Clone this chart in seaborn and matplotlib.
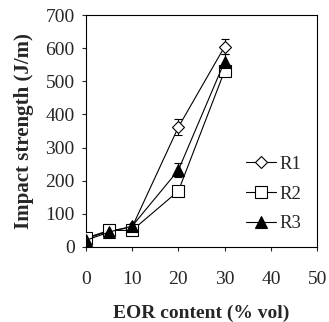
import matplotlib
matplotlib.use("Agg")
import matplotlib.pyplot as plt
import seaborn as sns
import pandas as pd
import numpy as np

eor = [0, 5, 10, 20, 30]
r1 = [25, 48, 60, 362, 605]
r2 = [27, 50, 50, 169, 532]
r3 = [20, 45, 63, 232, 560]
r1_err = [5, 5, 5, 25, 22]
r2_err = [4, 4, 4, 8, 10]
r3_err = [4, 4, 4, 22, 22]
series = ["R1", "R2", "R3"]

sns.set_style("white")
plt.rcParams["font.family"] = ["Liberation Serif", "DejaVu Serif"]

fig = plt.figure(figsize=(3.29, 3.22), dpi=100)
ax = fig.add_axes([0.261, 0.233, 0.703, 0.72])

df = pd.DataFrame({
    "x": eor * 3,
    "y": r1 + r2 + r3,
    "err": r1_err + r2_err + r3_err,
    "s": sum([[s] * len(eor) for s in series], []),
})

styles = {
    "R1": dict(marker="D", mfc="white", ms=6.5),
    "R2": dict(marker="s", mfc="white", ms=8),
    "R3": dict(marker="^", mfc="black", ms=8),
}
for s in series:
    d = df[df.s == s]
    ax.errorbar(d.x, d.y, yerr=d.err, fmt="none", ecolor="black",
                elinewidth=0.8, capsize=3, capthick=0.8, zorder=2)
for s in series:
    d = df[df.s == s]
    sns.lineplot(x=d.x, y=d.y, ax=ax, color="black", linewidth=0.8,
                 marker=styles[s]["marker"], markersize=styles[s]["ms"],
                 markerfacecolor=styles[s]["mfc"], markeredgecolor="black",
                 markeredgewidth=0.8, label=s, zorder=3)

ax.set_xlim(0, 50)
ax.set_ylim(0, 700)
ax.set_xticks([0, 10, 20, 30, 40, 50])
ax.set_yticks(range(0, 701, 100))
ax.tick_params(axis="both", labelsize=14, length=3, width=0.8,
               direction="out", bottom=True, left=True, pad=5)
ax.tick_params(axis="x", pad=14)
for sp in ax.spines.values():
    sp.set_color("black")
    sp.set_linewidth(0.8)
ax.set_xlabel("EOR content (% vol)", fontsize=14, fontweight="bold", labelpad=12)
ax.set_ylabel("Impact strength (J/m)", fontsize=15, fontweight="bold", labelpad=8)
leg = ax.legend(loc="lower left", bbox_to_anchor=(0.62, -0.01), frameon=False,
                fontsize=13.5, handlelength=1.6, handletextpad=0.2,
                labelspacing=0.68)
fig.savefig("out.png", dpi=100)
